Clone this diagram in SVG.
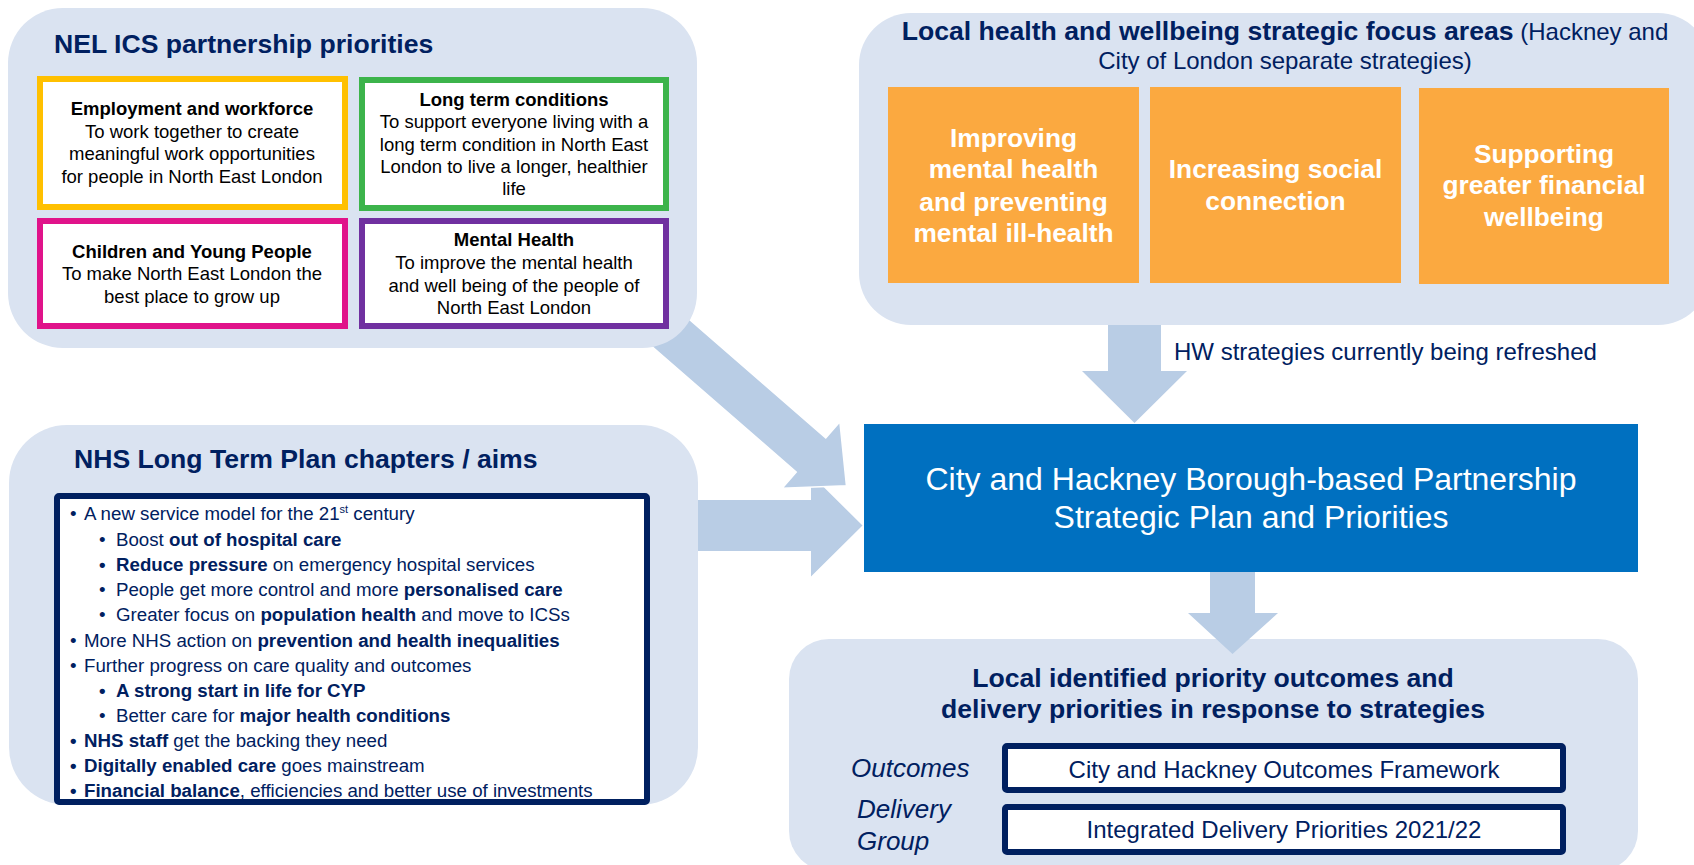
<svg xmlns="http://www.w3.org/2000/svg" width="1694" height="865" viewBox="0 0 1694 865">
  <style>
    text { font-family: "Liberation Sans", Arial, sans-serif; }
    .panel { fill: #DAE3F1; }
    .arrow { fill: #B9CDE5; }
    .ttl { font-size: 26.6px; font-weight: bold; fill: #002060; }
    .pbox { fill: #ffffff; stroke-width: 6; }
    .ptxt { font-size: 18.5px; fill: #000000; text-anchor: middle; }
    .b { font-weight: bold; }
    .orange { fill: #FBA940; }
    .otxt { font-size: 26.3px; font-weight: bold; fill: #ffffff; text-anchor: middle; }
    .navy { fill: #ffffff; stroke: #002060; stroke-width: 6; }
    .li { font-size: 18.7px; fill: #002060; }
    .lbl { font-size: 26px; font-style: italic; fill: #002060; }
    .otc { font-size: 24px; fill: #002060; text-anchor: middle; }
  </style>

  <!-- Local outcomes / delivery priorities (drawn first so the incoming arrow tip overlaps it) -->
  <g id="local-outcomes">
    <rect class="panel" x="789" y="639" width="849" height="232" rx="40"/>
    <text class="ttl" x="1213" y="687" text-anchor="middle">Local identified priority outcomes and</text>
    <text class="ttl" x="1213" y="718" text-anchor="middle">delivery priorities in response to strategies</text>
    <text class="lbl" x="851" y="777">Outcomes</text>
    <text class="lbl" x="857" y="818">Delivery</text>
    <text class="lbl" x="857" y="850">Group</text>
    <rect class="navy" x="1005" y="746" width="558" height="44" rx="2"/>
    <text class="otc" x="1284" y="778">City and Hackney Outcomes Framework</text>
    <rect class="navy" x="1005" y="807" width="558" height="45" rx="2"/>
    <text class="otc" x="1284" y="838">Integrated Delivery Priorities 2021/22</text>
  </g>

  <!-- Block arrows -->
  <g id="connectors">
    <polygon class="arrow" points="680,500 811,500 811,474.5 862.5,525.5 811,576.5 811,551 680,551"/>
    <polygon class="arrow" transform="translate(811,455) rotate(41)" stroke="#ffffff" stroke-width="1.5"
             points="-200,-22.5 0,-22.5 0,-44 47,0 0,44 0,22.5 -200,22.5"/>
    <polygon class="arrow" points="1108,300 1161,300 1161,371 1187,371 1134.5,423 1082,371 1108,371"/>
    <polygon class="arrow" points="1210,560 1255,560 1255,613 1278,613 1232.5,654 1188,613 1210,613"/>
  </g>

  <!-- NEL ICS partnership priorities -->
  <g id="nel-ics">
    <rect class="panel" x="8" y="8" width="689" height="340" rx="55"/>
    <text class="ttl" x="54" y="53">NEL ICS partnership priorities</text>

    <rect class="pbox" x="40" y="79" width="305" height="128" stroke="#FFC000"/>
    <text class="ptxt" x="192" y="115"><tspan class="b">Employment and workforce</tspan></text>
    <text class="ptxt" x="192" y="138">To work together to create</text>
    <text class="ptxt" x="192" y="160">meaningful work opportunities</text>
    <text class="ptxt" x="192" y="183">for people in North East London</text>

    <rect class="pbox" x="362" y="80" width="304" height="128" stroke="#3CB44B"/>
    <text class="ptxt" x="514" y="106"><tspan class="b">Long term conditions</tspan></text>
    <text class="ptxt" x="514" y="128">To support everyone living with a</text>
    <text class="ptxt" x="514" y="151">long term condition in North East</text>
    <text class="ptxt" x="514" y="173">London to live a longer, healthier</text>
    <text class="ptxt" x="514" y="195">life</text>

    <rect class="pbox" x="40" y="221" width="305" height="105" stroke="#E0138A"/>
    <text class="ptxt" x="192" y="258"><tspan class="b">Children and Young People</tspan></text>
    <text class="ptxt" x="192" y="280">To make North East London the</text>
    <text class="ptxt" x="192" y="303">best place to grow up</text>

    <rect class="pbox" x="362" y="221" width="304" height="105" stroke="#7030A0"/>
    <text class="ptxt" x="514" y="246"><tspan class="b">Mental Health</tspan></text>
    <text class="ptxt" x="514" y="269">To improve the mental health</text>
    <text class="ptxt" x="514" y="292">and well being of the people of</text>
    <text class="ptxt" x="514" y="314">North East London</text>
  </g>

  <!-- NHS Long Term Plan -->
  <g id="nhs-ltp">
    <rect class="panel" x="9" y="425" width="689" height="380" rx="58"/>
    <text class="ttl" x="74" y="468">NHS Long Term Plan chapters / aims</text>
    <rect class="navy" x="57" y="496" width="590" height="306" rx="2"/>

    <text class="li" x="70" y="520">•</text>
    <text class="li" x="84" y="520">A new service model for the 21<tspan font-size="11" dy="-7">st</tspan><tspan dy="7"> century</tspan></text>

    <text class="li" x="99" y="546">•</text>
    <text class="li" x="116" y="546">Boost <tspan class="b">out of hospital care</tspan></text>

    <text class="li b" x="99" y="571">•</text>
    <text class="li" x="116" y="571"><tspan class="b">Reduce pressure</tspan> on emergency hospital services</text>

    <text class="li" x="99" y="596">•</text>
    <text class="li" x="116" y="596">People get more control and more <tspan class="b">personalised care</tspan></text>

    <text class="li" x="99" y="621">•</text>
    <text class="li" x="116" y="621">Greater focus on <tspan class="b">population health</tspan> and move to ICSs</text>

    <text class="li" x="70" y="647">•</text>
    <text class="li" x="84" y="647">More NHS action on <tspan class="b">prevention and health inequalities</tspan></text>

    <text class="li" x="70" y="672">•</text>
    <text class="li" x="84" y="672">Further progress on care quality and outcomes</text>

    <text class="li b" x="99" y="697">•</text>
    <text class="li b" x="116" y="697">A strong start in life for CYP</text>

    <text class="li" x="99" y="722">•</text>
    <text class="li" x="116" y="722">Better care for <tspan class="b">major health conditions</tspan></text>

    <text class="li b" x="70" y="747">•</text>
    <text class="li" x="84" y="747"><tspan class="b">NHS staff</tspan> get the backing they need</text>

    <text class="li b" x="70" y="772">•</text>
    <text class="li" x="84" y="772"><tspan class="b">Digitally enabled care</tspan> goes mainstream</text>

    <text class="li b" x="70" y="797">•</text>
    <text class="li" x="84" y="797"><tspan class="b">Financial balance</tspan>, efficiencies and better use of investments</text>
  </g>

  <!-- Local health and wellbeing focus areas -->
  <g id="hw-focus">
    <rect class="panel" x="859" y="13" width="851" height="312" rx="52"/>
    <text x="1285" y="40" text-anchor="middle" fill="#002060"><tspan font-size="26.6" font-weight="bold">Local health and wellbeing strategic focus areas</tspan><tspan font-size="24"> (Hackney and</tspan></text>
    <text x="1285" y="69" text-anchor="middle" fill="#002060" font-size="24">City of London separate strategies)</text>

    <rect class="orange" x="888" y="87" width="251" height="196"/>
    <text class="otxt" x="1013.5" y="147">Improving</text>
    <text class="otxt" x="1013.5" y="178">mental health</text>
    <text class="otxt" x="1013.5" y="211">and preventing</text>
    <text class="otxt" x="1013.5" y="242">mental ill-health</text>

    <rect class="orange" x="1150" y="87" width="251" height="196"/>
    <text class="otxt" x="1275.5" y="178">Increasing social</text>
    <text class="otxt" x="1275.5" y="210">connection</text>

    <rect class="orange" x="1419" y="88" width="250" height="196"/>
    <text class="otxt" x="1544" y="163">Supporting</text>
    <text class="otxt" x="1544" y="194">greater financial</text>
    <text class="otxt" x="1544" y="226">wellbeing</text>

    <text x="1174" y="360" font-size="24" fill="#002060">HW strategies currently being refreshed</text>
  </g>

  <!-- Borough-based partnership plan -->
  <g id="chbp-plan">
    <rect x="864" y="424" width="774" height="148" fill="#0070C0"/>
    <text x="1251" y="490" text-anchor="middle" font-size="32" fill="#ffffff">City and Hackney Borough-based Partnership</text>
    <text x="1251" y="528" text-anchor="middle" font-size="32" fill="#ffffff">Strategic Plan and Priorities</text>
  </g>
</svg>
